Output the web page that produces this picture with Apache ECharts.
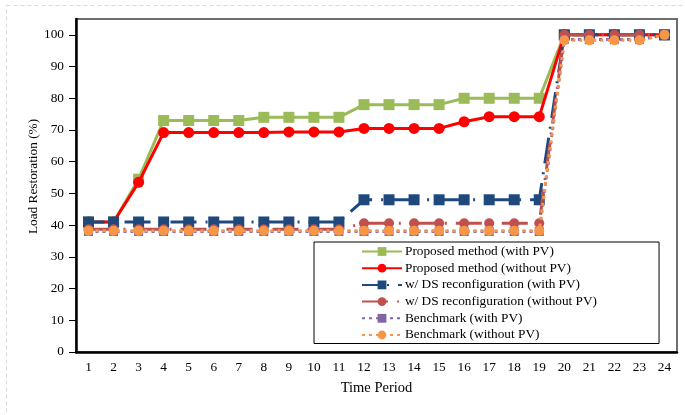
<!DOCTYPE html>
<html>
<head>
<meta charset="utf-8">
<script src="https://cdn.jsdelivr.net/npm/echarts@6/dist/echarts.min.js"></script>
<style>html,body{margin:0;padding:0;background:#fff}#c{width:685px;height:415px}</style>
</head>
<body>
<div id="c"></div>
<script>
const periods = ['1','2','3','4','5','6','7','8','9','10','11','12','13','14','15','16','17','18','19','20','21','22','23','24'];
const yTicks = [0,10,20,30,40,50,60,70,80,90,100];
const seriesNames = ['Proposed method (with PV)','Proposed method (without PV)','w/ DS reconfiguration (with PV)','w/ DS reconfiguration (without PV)','Benchmark (with PV)','Benchmark (without PV)'];
const proposedWithPV = [41,41,54.5,73,73,73,73,74,74,74,74,78,78,78,78,80,80,80,80,100,100,100,100,100];
const proposedWithoutPV = [41,41,53.5,69.2,69.2,69.2,69.2,69.2,69.4,69.4,69.4,70.5,70.5,70.5,70.5,72.6,74.2,74.2,74.2,100,100,100,100,100];
const dsWithPV = [41,41,41,41,41,41,41,41,41,41,41,48,48,48,48,48,48,48,48,100,100,100,100,100];
const dsWithoutPV = [38.7,38.7,38.7,38.7,38.7,38.7,38.7,38.7,38.7,38.7,38.7,40.6,40.6,40.6,40.6,40.6,40.6,40.6,40.6,100,100,100,100,100];
const benchWithPV = [38,38,38,38,38,38,38,38,38,38,38,38,38,38,38,38,38,38,38,98.5,98.5,98.5,98.5,100];
const benchWithoutPV = [38.2,38.2,38.2,38.2,38.2,38.2,38.2,38.2,38.2,38.2,38.2,38.2,38.2,38.2,38.2,38.2,38.2,38.2,38.2,98.3,98.3,98.3,98.3,100];

const font = 'Liberation Serif';
const chart = echarts.init(document.getElementById('c'), null, {renderer: 'canvas'});
function mk(name, data, color, symbol, size, lineType, z, offset) {
  return {
    name: name, type: 'line', data: data, symbol: symbol, symbolSize: size,
    showAllSymbol: true, animation: false, z: z,
    lineStyle: {color: color, width: 3, type: lineType, dashOffset: offset || 0},
    itemStyle: {color: color, borderWidth: 0}
  };
}
const dashDot = [26, 9, 2, 9];
const dots = [3, 4];
chart.setOption({
  animation: false,
  backgroundColor: '#fff',
  graphic: [{
    type: 'rect', left: 4, top: 3, shape: {width: 679, height: 410},
    style: {fill: 'none', stroke: '#d9d9d9', lineWidth: 1, lineDash: [4, 3]}, silent: true
  }],
  grid: {left: 76, right: 8, top: 19, bottom: 63, show: true, borderColor: '#6e6e6e', borderWidth: 2, backgroundColor: 'transparent'},
  legend: {
    orient: 'vertical', left: 314, top: 242,
    data: seriesNames,
    backgroundColor: '#fff', borderColor: '#000', borderWidth: 1,
    padding: [3, 62, 2, 47],
    itemWidth: 40, itemHeight: 11, itemGap: 3.7,
    textStyle: {fontFamily: font, fontSize: 13.3, color: '#000', padding: [0, 0, 0, -2]}
  },
  xAxis: {
    type: 'category', data: periods, boundaryGap: true,
    name: 'Time Period', nameLocation: 'middle', nameGap: 29, nameMoveOverlap: false,
    nameTextStyle: {fontFamily: font, fontSize: 14.5, color: '#000'},
    axisLine: {lineStyle: {color: '#000', width: 2.5}},
    axisTick: {inside: true, length: 5, lineStyle: {color: '#000', width: 1}},
    axisLabel: {fontFamily: font, fontSize: 13.3, color: '#000', margin: 9},
    splitLine: {show: false}
  },
  yAxis: {
    type: 'value', min: 0, max: 105, interval: 10,
    name: 'Load Restoration (%)', nameLocation: 'middle', nameGap: 36, nameRotate: 90, nameMoveOverlap: false,
    nameTextStyle: {fontFamily: font, fontSize: 13.3, color: '#000', padding: [0, 0, 0, 18]},
    axisLine: {show: true, lineStyle: {color: '#000', width: 2.5}},
    axisTick: {show: true, length: 7, customValues: yTicks, lineStyle: {color: '#000', width: 1}},
    axisLabel: {fontFamily: font, fontSize: 13.3, color: '#000', margin: 12, customValues: yTicks},
    splitLine: {show: false}
  },
  series: [
    mk(seriesNames[0], proposedWithPV, '#9BBB59', 'rect', 11, 'solid', 2),
    mk(seriesNames[1], proposedWithoutPV, '#FF0000', 'circle', 11, 'solid', 3),
    mk(seriesNames[2], dsWithPV, '#1F497D', 'rect', 11, dashDot, 4, 10),
    mk(seriesNames[3], dsWithoutPV, '#C0504D', 'circle', 10, dashDot, 5),
    mk(seriesNames[4], benchWithPV, '#8064A2', 'rect', 9, dots, 6),
    mk(seriesNames[5], benchWithoutPV, '#F79646', 'circle', 10, dots, 7)
  ]
});
</script>
</body>
</html>
